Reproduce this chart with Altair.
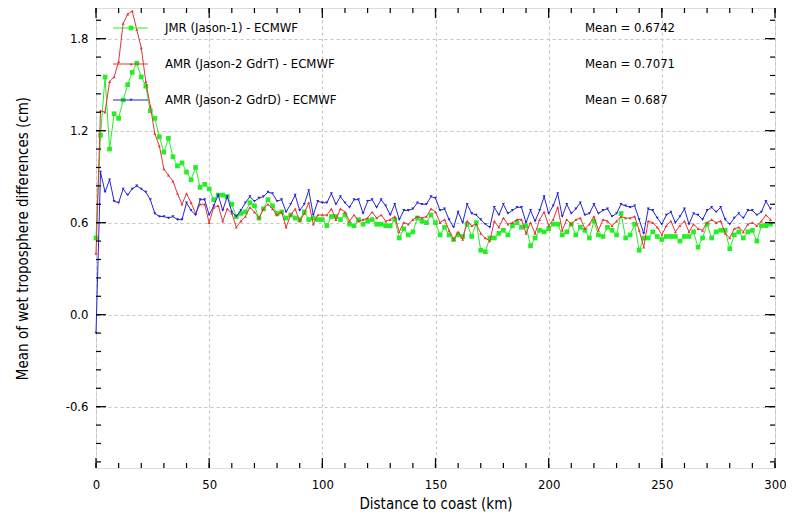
import altair as alt
import pandas as pd

# ---------------- data ----------------
km = list(range(0, 300, 2))

series = ["JMR (Jason-1) - ECMWF", "AMR (Jason-2 GdrT) - ECMWF", "AMR (Jason-2 GdrD) - ECMWF"]
means = ["0.6742", "0.7071", "0.687"]

jmr = [
    0.50, 1.17, 1.55, 1.08, 1.31, 1.28, 1.40, 1.50, 1.58, 1.64, 1.55, 1.49, 1.33, 1.28, 1.16, 1.06, 1.15, 1.03, 0.97, 0.99, 0.93, 0.88, 0.96, 0.83,
    0.85, 0.82, 0.75, 0.78, 0.78, 0.77, 0.72, 0.64, 0.66, 0.67, 0.73, 0.71, 0.63, 0.69, 0.75, 0.71, 0.66, 0.67, 0.63, 0.65, 0.63, 0.62, 0.67, 0.62, 0.63, 0.62, 0.62, 0.58, 0.64, 0.64,
    0.62, 0.65, 0.59, 0.58, 0.62, 0.59, 0.61, 0.62, 0.59, 0.59, 0.58, 0.58, 0.62, 0.50, 0.56, 0.52, 0.54, 0.63, 0.61, 0.60, 0.65, 0.60, 0.52, 0.57, 0.52, 0.49, 0.52, 0.51, 0.59, 0.51, 0.60, 0.42,
    0.41, 0.50, 0.50, 0.53, 0.55, 0.52, 0.58, 0.60, 0.57, 0.58, 0.45, 0.50, 0.55, 0.54, 0.56, 0.59, 0.59, 0.52, 0.54, 0.59, 0.52, 0.57, 0.55, 0.50, 0.61, 0.52, 0.51, 0.57, 0.55, 0.52, 0.66, 0.50,
    0.52, 0.59, 0.42, 0.50, 0.50, 0.54, 0.51, 0.49, 0.51, 0.51, 0.51, 0.48, 0.51, 0.51, 0.54, 0.44, 0.50, 0.59, 0.50, 0.54, 0.55, 0.55, 0.43, 0.52, 0.54, 0.50, 0.54, 0.55, 0.48, 0.58, 0.58, 0.59,
]

gdrt = [
    0.40, 1.33, 1.32, 1.52, 1.55, 1.65, 1.90, 1.96, 1.98, 1.86, 1.74, 1.52, 1.36, 1.18, 1.10, 0.95, 0.91, 0.87, 0.79, 0.72, 0.79, 0.73, 0.66, 0.72,
    0.72, 0.60, 0.70, 0.71, 0.61, 0.69, 0.66, 0.57, 0.61, 0.64, 0.70, 0.67, 0.63, 0.69, 0.72, 0.69, 0.65, 0.67, 0.57, 0.65, 0.69, 0.61, 0.66, 0.73, 0.59, 0.65, 0.65, 0.65, 0.69, 0.62,
    0.69, 0.67, 0.61, 0.65, 0.61, 0.62, 0.63, 0.67, 0.63, 0.65, 0.61, 0.62, 0.64, 0.54, 0.60, 0.59, 0.62, 0.64, 0.63, 0.64, 0.69, 0.67, 0.60, 0.62, 0.55, 0.49, 0.54, 0.49, 0.61, 0.58, 0.59, 0.53,
    0.50, 0.48, 0.61, 0.57, 0.63, 0.59, 0.60, 0.62, 0.62, 0.53, 0.60, 0.53, 0.62, 0.67, 0.58, 0.62, 0.70, 0.55, 0.62, 0.59, 0.62, 0.63, 0.56, 0.59, 0.64, 0.55, 0.62, 0.61, 0.58, 0.61, 0.64, 0.63,
    0.63, 0.64, 0.55, 0.44, 0.61, 0.60, 0.57, 0.52, 0.58, 0.61, 0.54, 0.58, 0.61, 0.54, 0.59, 0.56, 0.55, 0.60, 0.62, 0.60, 0.61, 0.53, 0.50, 0.56, 0.57, 0.54, 0.59, 0.60, 0.58, 0.61, 0.65, 0.62,
]

gdrd = [
    -0.12, 0.93, 0.80, 0.88, 0.74, 0.73, 0.82, 0.78, 0.82, 0.84, 0.82, 0.80, 0.75, 0.66, 0.64, 0.64, 0.63, 0.64, 0.62, 0.62, 0.73, 0.68, 0.65, 0.75,
    0.75, 0.65, 0.71, 0.78, 0.68, 0.77, 0.67, 0.64, 0.68, 0.73, 0.77, 0.74, 0.76, 0.77, 0.80, 0.79, 0.74, 0.75, 0.67, 0.72, 0.78, 0.68, 0.72, 0.81, 0.65, 0.74, 0.73, 0.73, 0.79, 0.72,
    0.77, 0.73, 0.70, 0.75, 0.75, 0.66, 0.74, 0.75, 0.70, 0.75, 0.71, 0.65, 0.72, 0.62, 0.68, 0.68, 0.69, 0.73, 0.72, 0.72, 0.77, 0.76, 0.68, 0.69, 0.62, 0.57, 0.67, 0.60, 0.72, 0.66, 0.65, 0.62,
    0.59, 0.57, 0.70, 0.65, 0.72, 0.66, 0.68, 0.70, 0.70, 0.60, 0.68, 0.61, 0.68, 0.77, 0.66, 0.71, 0.79, 0.64, 0.72, 0.66, 0.69, 0.73, 0.65, 0.66, 0.72, 0.66, 0.68, 0.69, 0.64, 0.66, 0.72, 0.71,
    0.70, 0.71, 0.62, 0.53, 0.69, 0.68, 0.63, 0.59, 0.65, 0.67, 0.60, 0.64, 0.69, 0.59, 0.66, 0.65, 0.62, 0.68, 0.70, 0.67, 0.70, 0.62, 0.59, 0.63, 0.66, 0.63, 0.68, 0.68, 0.65, 0.67, 0.74, 0.69,
]

x_labels = [0, 50, 100, 150, 200, 250, 300]
y_labels = [-0.6, 0.0, 0.6, 1.2, 1.8]
x_minor = list(range(0, 301, 10))
y_minor = [round(-0.96 + 0.12 * i, 2) for i in range(25)]

# ---------------- styles ----------------
colors = ["#26ee26", "#e63434", "#2424d6"]
shapes = ["square", "triangle-up", "triangle-down"]
sizes = [22, 9, 9]
FONT = "DejaVu Sans Condensed, DejaVu Sans, sans-serif"
W, H = 679, 460

xs = alt.Scale(domain=[0, 300], nice=False, zero=False)
ys = alt.Scale(domain=[-1.0, 2.0], nice=False, zero=False)

X_AXIS = alt.Axis(
    values=x_labels, title="Distance to coast (km)", ticks=False, domain=False,
    grid=True, gridDash=[3, 3], gridColor="#c4c4c4", gridWidth=1, labelFlush=False,
    labelFontSize=13, labelPadding=10, titleFontSize=15, titleFontWeight="normal",
    titlePadding=5, labelFont=FONT, titleFont=FONT, labelColor="black", titleColor="black")
Y_AXIS = alt.Axis(
    values=y_labels, title="Mean of wet troposphere differences (cm)", ticks=False, domain=False,
    grid=True, gridDash=[3, 3], gridColor="#c4c4c4", gridWidth=1, labelFlush=False,
    labelExpr="replace(format(datum.value, '.1f'), '\u2212', '-')",
    labelFontSize=13, labelPadding=8, titleFontSize=15, titleFontWeight="normal",
    titlePadding=35, labelFont=FONT, titleFont=FONT, labelColor="black", titleColor="black")


def xenc():
    return alt.X("km:Q", scale=xs, axis=X_AXIS)


def yenc():
    return alt.Y("value:Q", scale=ys, axis=Y_AXIS)


layers = []

# series
for vals, color, shape, size in zip([jmr, gdrt, gdrd], colors, shapes, sizes):
    d = pd.DataFrame({"km": km, "value": vals})
    base = alt.Chart(d).encode(x=xenc(), y=yenc())
    layers.append(base.mark_line(color=color, strokeWidth=1))
    layers.append(base.mark_point(shape=shape, filled=True, size=size, color=color, opacity=1))

# inward ticks
for vals, ln in [(x_minor, 5), (x_labels, 10)]:
    dfx = pd.DataFrame({"km": vals})
    layers.append(alt.Chart(dfx).mark_rule(color="black", strokeWidth=1.2).encode(
        x=xenc(), y=alt.value(H), y2=alt.value(H - ln)))
    layers.append(alt.Chart(dfx).mark_rule(color="black", strokeWidth=1.2).encode(
        x=xenc(), y=alt.value(0), y2=alt.value(ln)))
for vals, ln in [(y_minor, 5), (y_labels, 10)]:
    dfy = pd.DataFrame({"value": vals})
    layers.append(alt.Chart(dfy).mark_rule(color="black", strokeWidth=1.2).encode(
        y=yenc(), x=alt.value(0), x2=alt.value(ln)))
    layers.append(alt.Chart(dfy).mark_rule(color="black", strokeWidth=1.2).encode(
        y=yenc(), x=alt.value(W), x2=alt.value(W - ln)))

# legend
for i, (name, mean, color, shape, size) in enumerate(zip(series, means, colors, shapes, sizes)):
    yy = 20 + 36 * i
    ld = pd.DataFrame({"label": [name], "mean": ["Mean = " + mean]})
    layers.append(alt.Chart(ld).mark_rule(color=color, strokeWidth=1).encode(
        x=alt.value(17), x2=alt.value(52), y=alt.value(yy)))
    layers.append(alt.Chart(ld).mark_point(shape=shape, filled=True, size=size, color=color, opacity=1).encode(
        x=alt.value(35), y=alt.value(yy)))
    layers.append(alt.Chart(ld).mark_text(align="left", baseline="middle", fontSize=13, font=FONT, color="black").encode(
        x=alt.value(69), y=alt.value(yy), text="label:N"))
    layers.append(alt.Chart(ld).mark_text(align="left", baseline="middle", fontSize=13, font=FONT, color="black").encode(
        x=alt.value(489), y=alt.value(yy), text="mean:N"))

chart = alt.layer(*layers).properties(
    width=W, height=H,
    autosize=alt.AutoSizeParams(type="none"),
    padding={"left": 88, "top": 0, "right": 11, "bottom": 48},
).configure_view(stroke="black", strokeWidth=2).configure(background="white")

chart.save("out.html", embed_options={"renderer": "svg", "actions": False})
